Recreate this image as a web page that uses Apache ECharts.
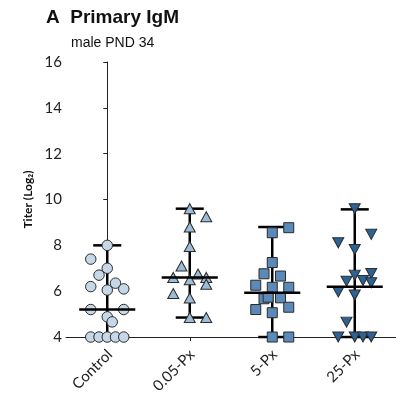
<!DOCTYPE html>
<html>
<head>
<meta charset="utf-8">
<script src="https://cdn.jsdelivr.net/npm/echarts@6/dist/echarts.min.js"></script>
<style>
  html, body { margin: 0; padding: 0; background: #fff; }
  #chart { width: 396px; height: 396px; }
</style>
</head>
<body>
<div id="chart"></div>
<script>
// groups on the x axis
var groups = ['Control', '0.05-Px', '5-Px', '25-Px'];
var yTicks = [4, 6, 8, 10, 12, 14, 16];

// titers per animal (log2), with the horizontal jitter of each marker
var controlVals = [8.0, 7.4, 7.0, 6.7, 6.35, 6.2, 6.1, 6.05, 5.2, 5.2, 4.88, 4.66, 4.0, 4.0, 4.0, 4.0, 4.0];
var controlJit  = [0, -0.2, 0, -0.1, 0.1, -0.2, 0.2, 0, -0.2, 0.2, 0, 0.06, -0.2, -0.1, 0, 0.1, 0.2];

var px005Vals = [9.6, 9.25, 8.8, 7.95, 7.1, 6.6, 6.75, 6.5, 6.6, 6.3, 5.9, 5.7, 4.85, 4.85];
var px005Jit  = [0, 0.2, 0, 0, -0.1, -0.2, 0.1, 0, 0.2, 0.2, -0.2, 0, 0, 0.2];

var px5Vals = [8.55, 8.77, 7.25, 6.76, 6.66, 6.26, 6.17, 6.17, 5.67, 5.74, 5.71, 5.2, 5.3, 5.06, 4.0, 4.0];
var px5Jit  = [0, 0.2, 0, -0.1, 0.1, -0.2, 0, 0.2, -0.1, -0.05, 0.1, -0.2, 0.2, 0, 0, 0.2];

var px25Vals = [9.6, 8.48, 8.11, 7.82, 6.7, 6.77, 6.47, 6.37, 6.44, 5.97, 5.83, 4.65, 4.0, 4.0, 4.0, 4.0];
var px25Jit  = [0, 0.2, -0.2, 0, 0, 0.2, 0.1, 0.2, -0.1, -0.2, 0, -0.1, -0.2, 0, 0.1, 0.2];

// median and range bars as drawn
var medianVals = [5.2, 6.6, 5.93, 6.19];
var minVals = [4.0, 4.85, 4.0, 4.0];
var maxVals = [8.0, 9.6, 8.8, 9.57];

var chart = echarts.init(document.getElementById('chart'));

function pts(vals, jit, g) {
    return vals.map(function (v, i) { return [g + jit[i], v]; });
}

var markerBorder = { borderColor: '#2b2b2b', borderWidth: 1 };

var barData = groups.map(function (g, i) { return [i, minVals[i], maxVals[i], medianVals[i]]; });

function rangeBars(params, api) {
    var x = api.value(0);
    var lo = api.coord([x, api.value(1)]);
    var hi = api.coord([x, api.value(2)]);
    var capL = api.coord([x - 0.17, 0])[0];
    var capR = api.coord([x + 0.17, 0])[0];
    var st = { stroke: '#000', lineWidth: 2.5 };
    return {
        type: 'group',
        children: [
            { type: 'line', shape: { x1: lo[0], y1: lo[1], x2: hi[0], y2: hi[1] }, style: st },
            { type: 'line', shape: { x1: capL, y1: lo[1], x2: capR, y2: lo[1] }, style: st },
            { type: 'line', shape: { x1: capL, y1: hi[1], x2: capR, y2: hi[1] }, style: st }
        ]
    };
}

function medianBar(params, api) {
    var x = api.value(0);
    var m = api.coord([x, api.value(3)]);
    var l = api.coord([x - 0.34, 0])[0];
    var r = api.coord([x + 0.34, 0])[0];
    return {
        type: 'line',
        shape: { x1: l, y1: m[1], x2: r, y2: m[1] },
        style: { stroke: '#000', lineWidth: 2.5 }
    };
}

var option = {
    animation: false,
    title: [
        {
            text: 'A  Primary IgM',
            left: 41,
            top: 3,
            textStyle: { fontFamily: 'Liberation Sans', fontSize: 19, fontWeight: 'bold', color: '#111' }
        },
        {
            text: 'male PND 34',
            left: 66,
            top: 31,
            textStyle: { fontFamily: 'Liberation Sans', fontSize: 14, fontWeight: 'normal', color: '#111' }
        }
    ],
    grid: { left: 66, right: -2, top: 62, bottom: 58 },
    xAxis: {
        type: 'value',
        min: -0.5,
        max: 3.5,
        axisLine: { show: true, onZero: false, lineStyle: { color: '#222', width: 1 } },
        axisTick: { show: true, inside: false, length: 4, customValues: [0, 1, 2, 3], lineStyle: { color: '#222' } },
        axisLabel: {
            // labels sit a little right of their tick, as in the original
            customValues: [0.03, 1.03, 2.03, 3.03],
            rotate: 45,
            margin: 15,
            fontFamily: 'Lato',
            fontSize: 15,
            color: '#222',
            formatter: function (v) { return groups[Math.round(v)]; }
        },
        splitLine: { show: false }
    },
    yAxis: {
        type: 'value',
        min: yTicks[0],
        max: yTicks[yTicks.length - 1],
        interval: 2,
        name: 'Titer (Log₂)',
        nameLocation: 'middle',
        nameGap: 30,
        nameTextStyle: { fontFamily: 'Lato', fontSize: 12, fontWeight: 'bold', color: '#111' },
        axisLine: { show: true, lineStyle: { color: '#222', width: 1 } },
        axisTick: { show: true, length: 4, lineStyle: { color: '#222' } },
        axisLabel: { fontFamily: 'Lato', fontSize: 15, color: '#222', margin: 4 },
        splitLine: { show: false }
    },
    series: [
        { type: 'custom', renderItem: rangeBars, data: barData, z: 1, silent: true },
        {
            type: 'scatter', data: pts(controlVals, controlJit, 0), symbol: 'circle', symbolSize: 10.5, z: 2,
            itemStyle: Object.assign({ color: '#c6d8e7', opacity: 1 }, markerBorder)
        },
        {
            type: 'scatter', data: pts(px005Vals, px005Jit, 1), symbol: 'triangle', symbolSize: [11, 10], z: 2,
            itemStyle: Object.assign({ color: '#9dbcd8', opacity: 1 }, markerBorder)
        },
        {
            type: 'scatter', data: pts(px5Vals, px5Jit, 2), symbol: 'rect', symbolSize: 10, z: 2,
            itemStyle: Object.assign({ color: '#5b89b9', opacity: 1 }, markerBorder)
        },
        {
            type: 'scatter', data: pts(px25Vals, px25Jit, 3), symbol: 'triangle', symbolRotate: 180, symbolSize: [11, 10], z: 2,
            itemStyle: Object.assign({ color: '#2b6397', opacity: 1 }, markerBorder)
        },
        { type: 'custom', renderItem: medianBar, data: barData, z: 3, silent: true }
    ]
};

chart.setOption(option);
</script>
</body>
</html>
